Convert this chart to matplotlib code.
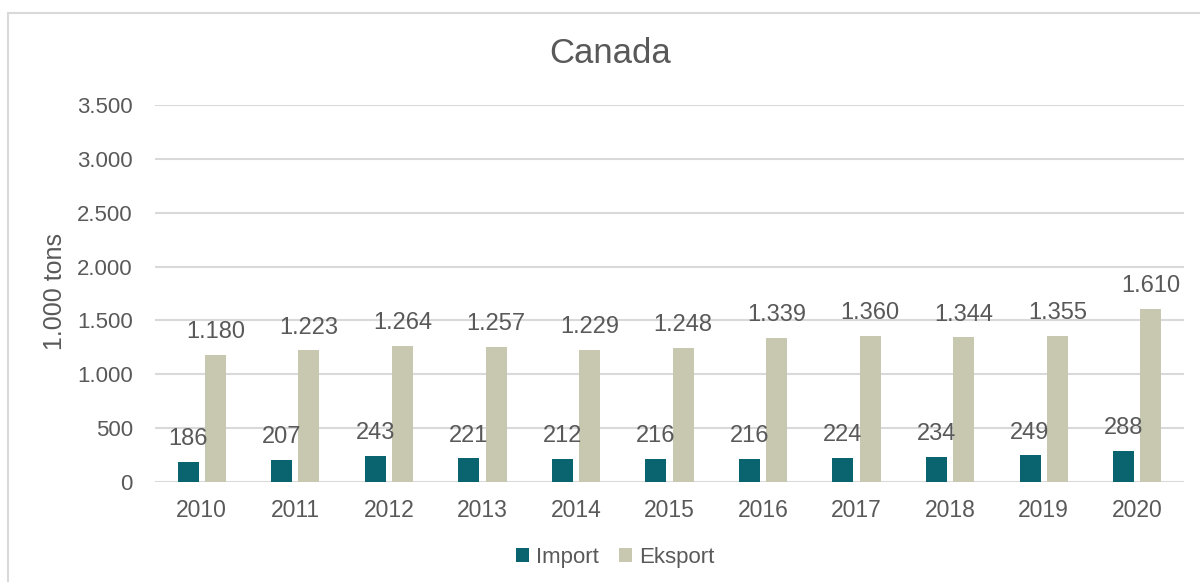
import numpy as np
import matplotlib.pyplot as plt
from matplotlib.patches import Rectangle

plt.rcParams['font.family'] = ['Liberation Sans', 'DejaVu Sans']

years = ['2010', '2011', '2012', '2013', '2014', '2015', '2016', '2017', '2018', '2019', '2020']
import_vals = [186, 207, 243, 221, 212, 216, 216, 224, 234, 249, 288]
export_vals = [1180, 1223, 1264, 1257, 1229, 1248, 1339, 1360, 1344, 1355, 1610]
yticks = [0, 500, 1000, 1500, 2000, 2500, 3000, 3500]

text_col = '#595959'
imp_col = '#0a6470'
exp_col = '#c8c8b0'
grid_col = '#d9d9d9'


def fmt(v):
    # danish thousands separator
    return f"{v:,}".replace(',', '.')


fig = plt.figure(figsize=(12, 5.82), dpi=100)
ax = fig.add_axes([155 / 1200, 1 - 482 / 582, (1184 - 155) / 1200, (482 - 105) / 582])

x = np.arange(len(years))
w = 0.225
off = 0.146
b1 = ax.bar(x - off, import_vals, w, color=imp_col, label='Import', zorder=3)
b2 = ax.bar(x + off, export_vals, w, color=exp_col, label='Eksport', zorder=3)

for bars, vals in ((b1, import_vals), (b2, export_vals)):
    for r, v in zip(bars, vals):
        ax.annotate(fmt(v), (r.get_x() + r.get_width() / 2, v), xytext=(0, 12),
                    textcoords='offset points', ha='center', va='baseline',
                    fontsize=17, color=text_col)

ax.set_xlim(-0.5, len(years) - 0.5)
ax.set_ylim(0, 3500)
ax.set_yticks(yticks)
ax.set_yticklabels([fmt(t) for t in yticks])
ax.set_xticks(x)
ax.set_xticklabels(years)
ax.tick_params(axis='y', length=0, pad=16, labelsize=16, labelcolor=text_col)
ax.tick_params(axis='x', length=0, pad=12, labelsize=16.5, labelcolor=text_col)
ax.grid(axis='y', color=grid_col, lw=1.5, zorder=0)
for s in ax.spines.values():
    s.set_visible(False)

fig.text(610 / 1200, 1 - 53.5 / 582, 'Canada', ha='center', va='center', fontsize=25, color=text_col)
fig.text(55 / 1200, 1 - 291 / 582, '1.000 tons', ha='center', va='center', rotation=90,
         fontsize=18, color=text_col)

fig.legend(handles=[b1, b2], loc='center', bbox_to_anchor=(615 / 1200, 1 - 557 / 582), ncol=2,
           frameon=False, fontsize=16, labelcolor=text_col, handlelength=0.6, handleheight=0.6,
           handletextpad=0.3, columnspacing=0.9)

fig.patches.append(Rectangle((8 / 1200, -0.1), 1.2, 1 - 13 / 582 + 0.1, transform=fig.transFigure,
                             fill=False, edgecolor='#d9d9d9', lw=1.5))

fig.savefig('out.png', dpi=100)
